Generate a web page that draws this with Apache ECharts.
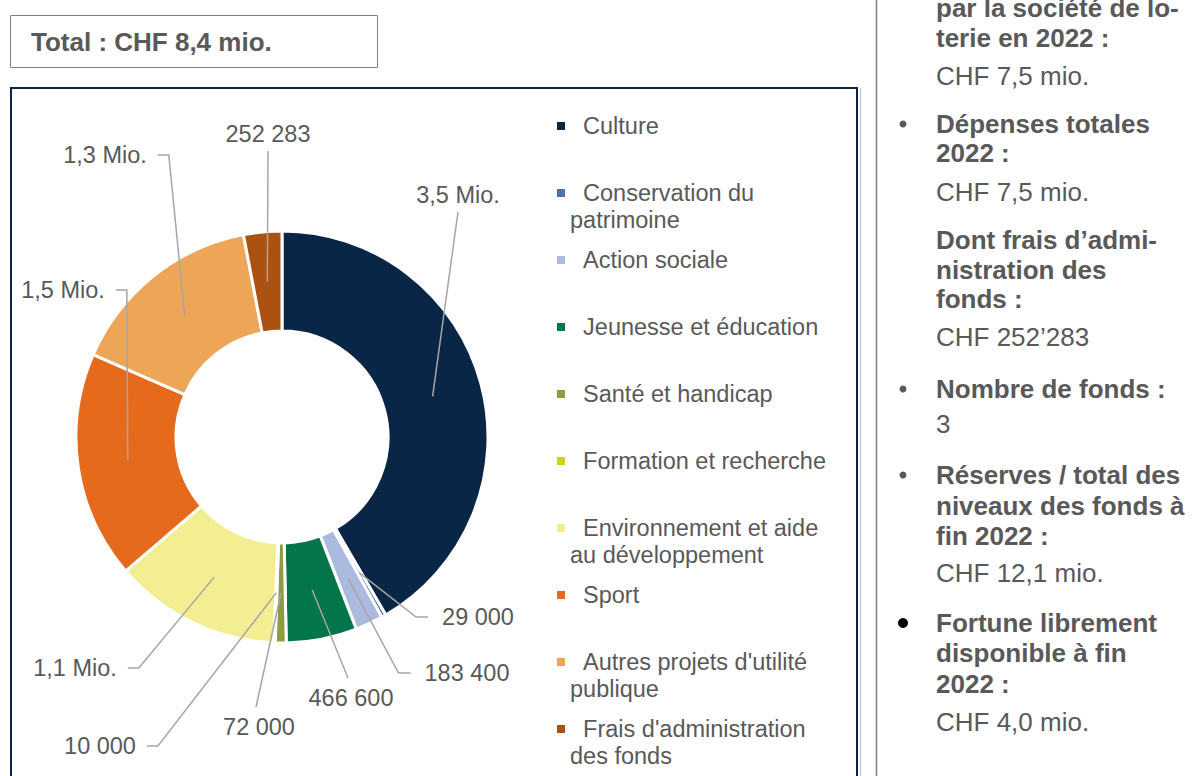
<!DOCTYPE html>
<html><head><meta charset="utf-8">
<script src="https://cdn.jsdelivr.net/npm/echarts@6/dist/echarts.min.js"></script>
<style>html,body{margin:0;padding:0;background:#fff}#main{width:1203px;height:776px}</style>
</head><body><div id="main"></div>
<script>
// ---- data ----
const categories = ['Culture', 'Conservation du patrimoine', 'Action sociale', 'Jeunesse et éducation',
  'Santé et handicap', 'Formation et recherche', 'Environnement et aide au développement', 'Sport',
  "Autres projets d'utilité publique", "Frais d'administration des fonds"];
const values = [3500000, 29000, 183400, 466600, 72000, 10000, 1100000, 1500000, 1300000, 252283];
const valueLabels = ['3,5 Mio.', '29 000', '183 400', '466 600', '72 000', '10 000', '1,1 Mio.', '1,5 Mio.', '1,3 Mio.', '252 283'];
const legendLines = [['Culture'], ['Conservation du', 'patrimoine'], ['Action sociale'], ['Jeunesse et éducation'],
  ['Santé et handicap'], ['Formation et recherche'], ['Environnement et aide', 'au développement'], ['Sport'],
  ["Autres projets d'utilité", 'publique'], ["Frais d'administration", 'des fonds']];
const colors = ['#0A2646', '#4A70B0', '#ADBAE0', '#02754A', '#8E9C41', '#CED21C', '#F3EE92', '#E56A1C', '#EDA557', '#AB5112'];
const titleText = 'Total : CHF 8,4 mio.';
// right panel text lines: [text, bold, centerY]
const panelLines = [
  ['par la société de lo-', true, 8], ['terie en 2022 :', true, 38], ['CHF 7,5 mio.', false, 76],
  ['Dépenses totales', true, 124], ['2022 :', true, 153], ['CHF 7,5 mio.', false, 192],
  ['Dont frais d’admi-', true, 240], ['nistration des', true, 270], ['fonds :', true, 299], ['CHF 252’283', false, 337],
  ['Nombre de fonds :', true, 389], ['3', false, 424],
  ['Réserves / total des', true, 475], ['niveaux des fonds à', true, 506], ['fin 2022 :', true, 536], ['CHF 12,1 mio.', false, 573],
  ['Fortune librement', true, 623], ['disponible à fin', true, 653], ['2022 :', true, 684], ['CHF 4,0 mio.', false, 722]
];
const bulletRows = [[124, '#595959', 3.5], [389, '#595959', 3.5], [475, '#595959', 3.5], [623, '#000000', 5]];

// ---- layout (label placement & which label edge the leader line reaches) ----
const labelPlacement = [
  {x: 458, y: 195, attach: 'bottom'}, {x: 478, y: 617, attach: 'left'}, {x: 467, y: 673, attach: 'left'},
  {x: 351, y: 698, attach: 'top'}, {x: 259, y: 727, attach: 'top'}, {x: 100, y: 746, attach: 'right'},
  {x: 75, y: 668, attach: 'right'}, {x: 63, y: 290, attach: 'right'}, {x: 105, y: 155, attach: 'right'},
  {x: 268, y: 134, attach: 'bottom'}
];
const FONT = '"Liberation Sans", Arial, Helvetica, sans-serif';
const GREY = '#595959';

const chart = echarts.init(document.getElementById('main'), null, {renderer: 'svg'});

function sliceMid(i) {
  const lay = chart.getModel().getSeriesByIndex(0).getData().getItemLayout(i);
  const a = (lay.startAngle + lay.endAngle) / 2;
  const r = (lay.r + lay.r0) / 2;
  return [lay.cx + r * Math.cos(a), lay.cy + r * Math.sin(a)];
}

const graphics = [
  {type: 'rect', shape: {x: 10.5, y: 15.5, width: 367, height: 52}, style: {fill: '#fff', stroke: '#7F7F7F', lineWidth: 1}, z: 0},
  {type: 'text', x: 31, y: 42, style: {text: titleText, font: 'bold 26px ' + FONT, fill: GREY, verticalAlign: 'middle'}},
  {type: 'rect', shape: {x: 11, y: 88, width: 846, height: 720}, style: {fill: 'none', stroke: '#0B2545', lineWidth: 2}, z: -1},
  {type: 'line', shape: {x1: 860.5, y1: 88, x2: 860.5, y2: 776}, style: {stroke: '#B9C1D6', lineWidth: 1}},
  {type: 'line', shape: {x1: 876.5, y1: 0, x2: 876.5, y2: 776}, style: {stroke: '#7F7F7F', lineWidth: 1.5}}
];
panelLines.forEach(([t, b, y]) => graphics.push({type: 'text', x: 936, y: y,
  style: {text: t, font: (b ? 'bold ' : '') + '26px ' + FONT, fill: GREY, verticalAlign: 'middle'}}));
bulletRows.forEach(([y, c, r]) => graphics.push({type: 'circle', shape: {cx: 903, cy: y, r: r}, style: {fill: c}}));

const pieData = categories.map((c, i) => ({name: c, value: values[i]}));
const pieGeom = {center: [282, 437], radius: [106, 206], startAngle: 90, clockwise: true};

const option = {
  animation: false,
  color: colors,
  graphic: graphics,
  legend: {
    orient: 'vertical', left: 557, top: 85.5, padding: 0, itemGap: -14,
    itemWidth: 8, itemHeight: 8, icon: 'rect', selectedMode: false,
    itemStyle: {borderWidth: 0},
    data: categories,
    formatter: function (name) {
      const l = legendLines[categories.indexOf(name)];
      return '\u00A0\n\u00A0\u00A0' + l[0] + '\n' + (l[1] || '\u00A0');
    },
    textStyle: {fontFamily: FONT, fontSize: 23.5, color: GREY, lineHeight: 27}
  },
  series: [Object.assign({
    type: 'pie', z: 2,
    avoidLabelOverlap: false,
    itemStyle: {borderColor: '#fff', borderWidth: 3},
    label: {show: false},
    labelLine: {show: false},
    emphasis: {disabled: true},
    data: pieData
  }, pieGeom), Object.assign({
    type: 'pie', z: 3, silent: true,
    avoidLabelOverlap: false,
    itemStyle: {color: 'rgba(0,0,0,0)', borderWidth: 0},
    label: {
      show: true, position: 'outside', fontFamily: FONT, fontSize: 23.5, color: GREY,
      formatter: p => valueLabels[p.dataIndex]
    },
    labelLine: {show: true, lineStyle: {color: '#A6A6A6', width: 1.5}},
    emphasis: {disabled: true},
    labelLayout: function (p) {
      const i = p.dataIndex, pl = labelPlacement[i];
      const w = p.labelRect.width;
      let s;
      try { s = sliceMid(i); } catch (e) { s = [pl.x, pl.y]; }
      let pts;
      if (pl.attach === 'bottom') { const e = [pl.x, pl.y + 17]; pts = [s, e, e]; }
      else if (pl.attach === 'top') { const e = [pl.x - 3, pl.y - 20]; pts = [s, e, e]; }
      else if (pl.attach === 'left') { const e = [pl.x - w / 2 - 14, pl.y]; pts = [s, [e[0] - 12, e[1]], e]; }
      else { const e = [pl.x + w / 2 + 11, pl.y]; pts = [s, [e[0] + 11, e[1]], e]; }
      return {x: pl.x, y: pl.y, align: 'center', verticalAlign: 'middle', labelLinePoints: pts};
    },
    data: pieData
  }, pieGeom)]
};
chart.setOption(option);
</script>
</body></html>
